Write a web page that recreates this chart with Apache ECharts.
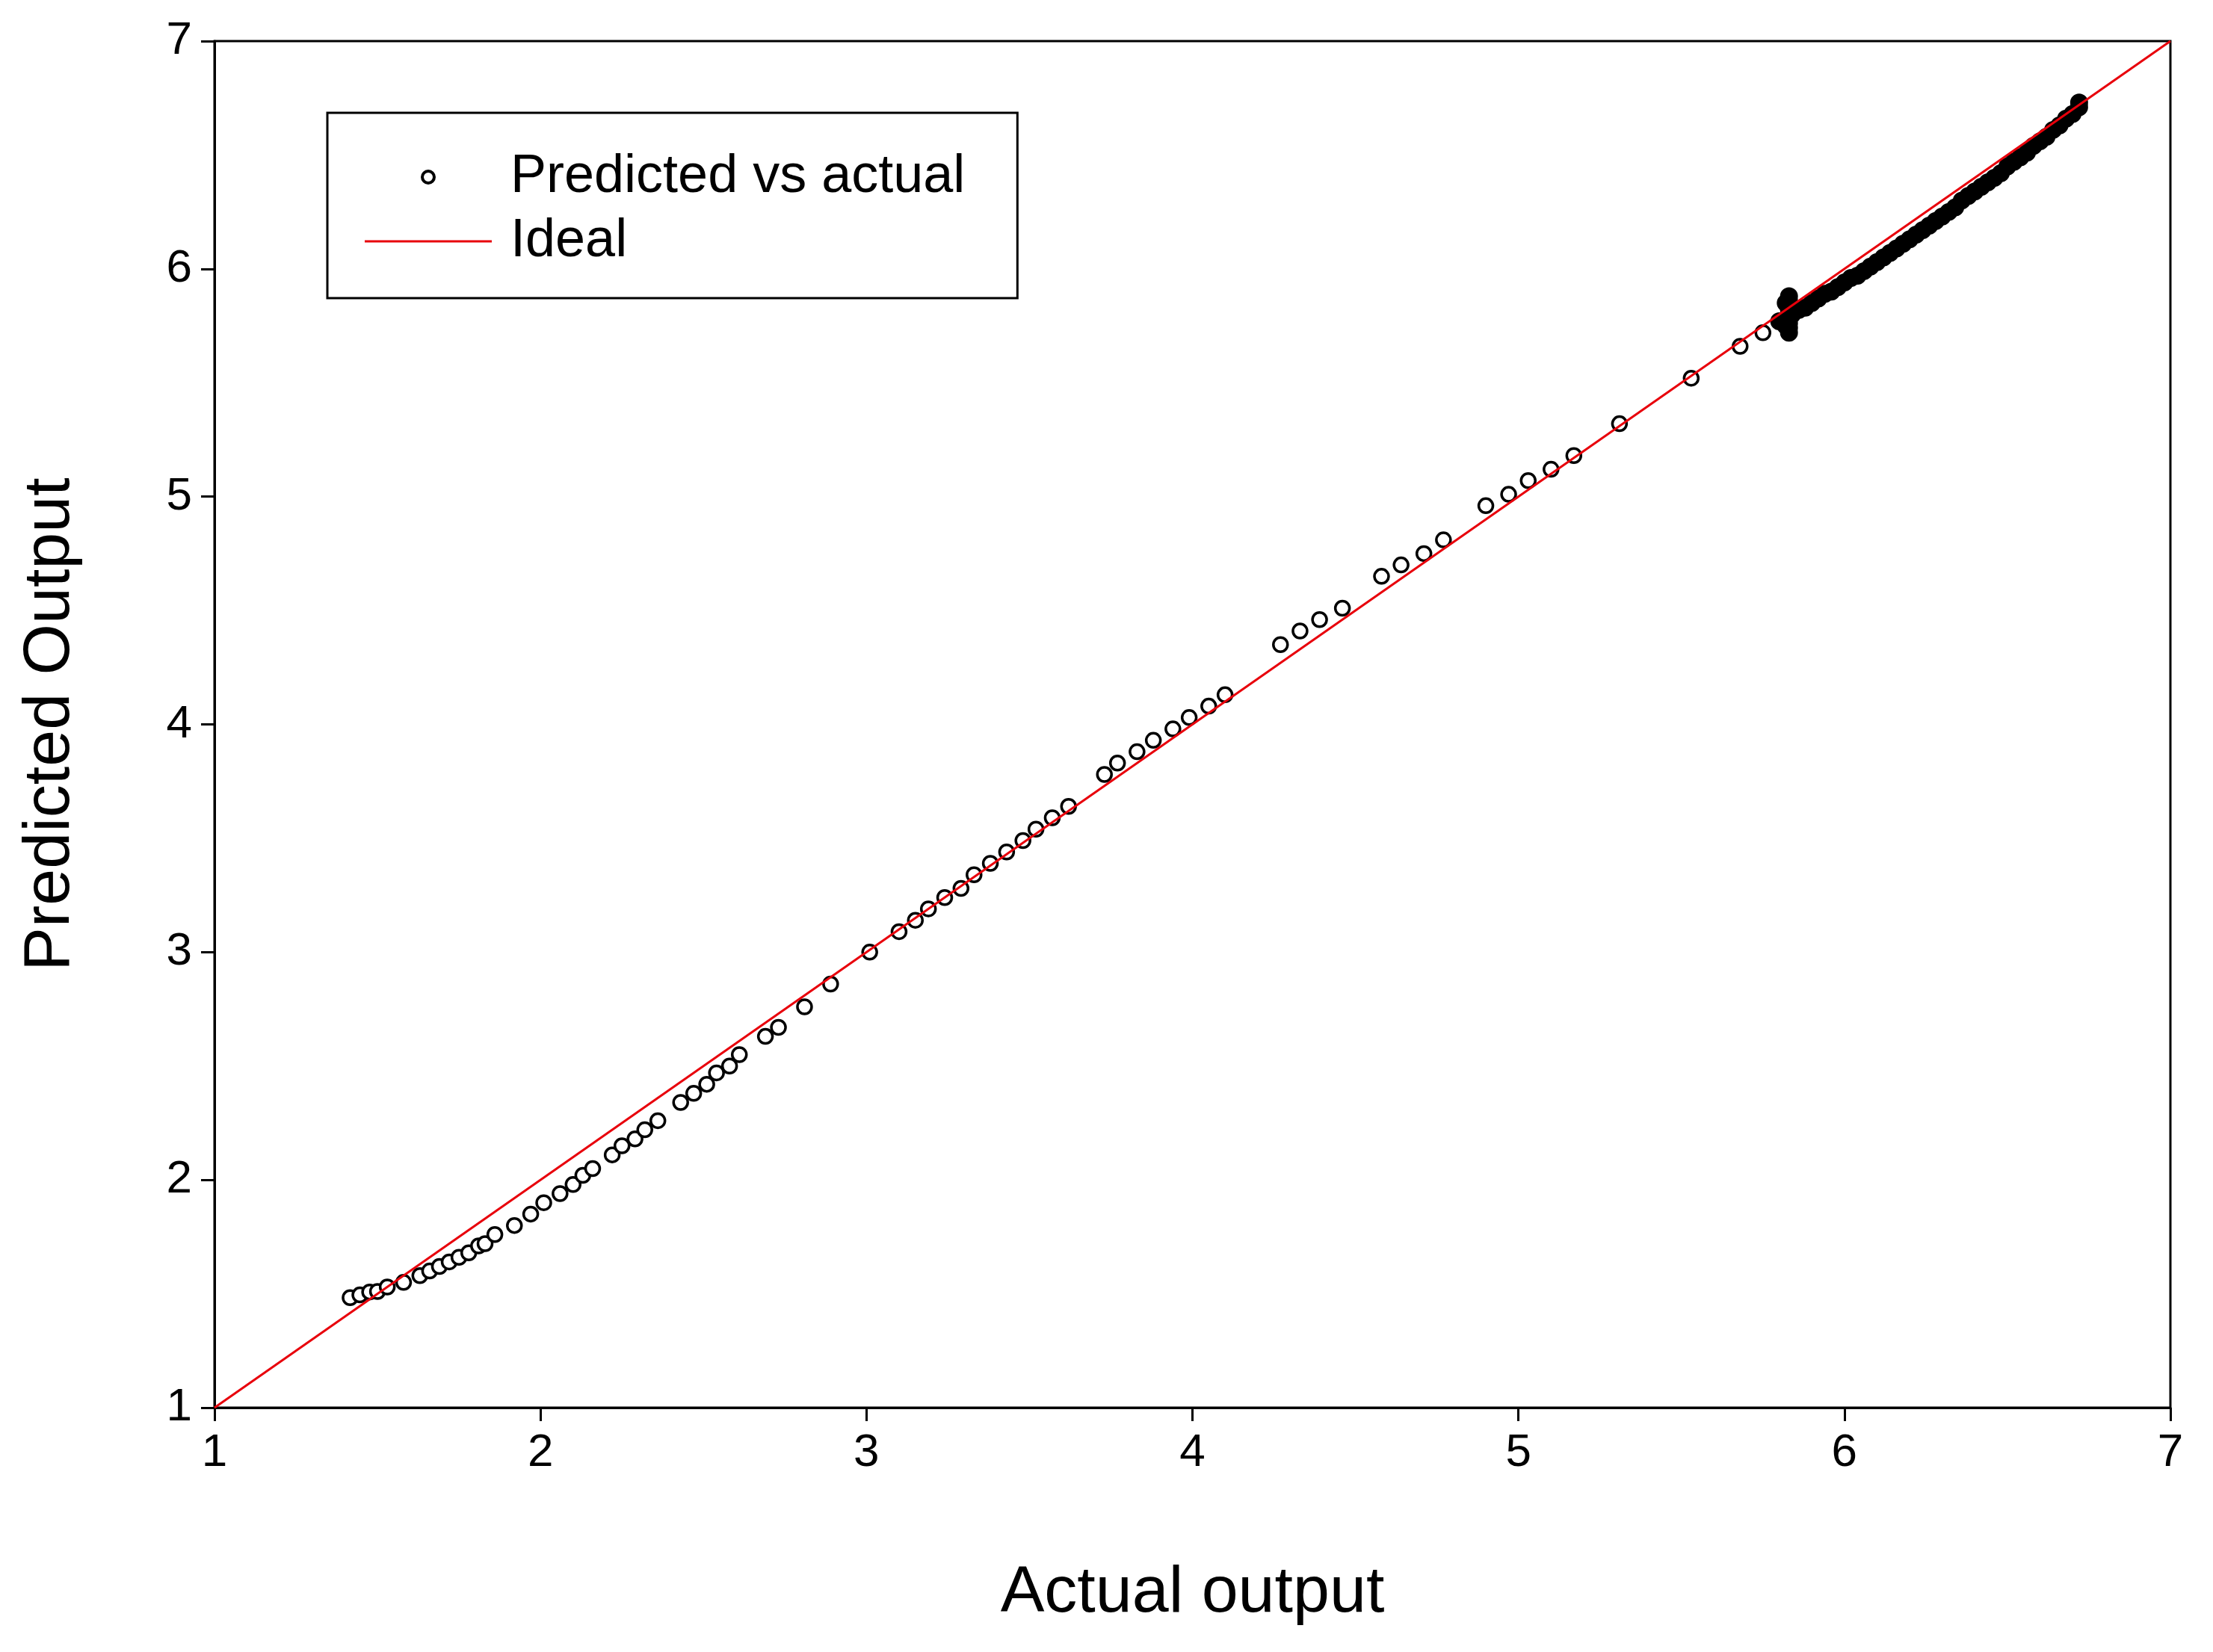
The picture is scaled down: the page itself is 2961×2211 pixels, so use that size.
<!DOCTYPE html>
<html><head><meta charset="utf-8">
<script src="https://cdn.jsdelivr.net/npm/echarts@6/dist/echarts.min.js"></script>
<style>html,body{margin:0;padding:0;background:#fff}#c{width:2961px;height:2211px}</style>
</head><body><div id="c"></div>
<script>
const xTicks = [1,2,3,4,5,6,7];
const sparsePoints = [
[1.416,1.483],[1.446,1.495],[1.476,1.508],[1.50,1.51],[1.53,1.53],[1.58,1.55],[1.63,1.58],[1.66,1.60],[1.69,1.62],[1.72,1.64],[1.75,1.66],[1.78,1.68],[1.81,1.71],[1.83,1.72],[1.86,1.76],[1.92,1.80],[1.97,1.85],[2.01,1.90],[2.06,1.94],[2.10,1.98],[2.13,2.02],[2.16,2.05],[2.22,2.11],[2.25,2.15],[2.29,2.18],[2.32,2.22],[2.36,2.26],[2.43,2.34],[2.47,2.38],[2.51,2.42],[2.54,2.47],[2.58,2.50],[2.61,2.55],[2.69,2.63],[2.73,2.67],[2.81,2.76],[2.89,2.86],[3.01,3.00],[3.10,3.09],[3.15,3.14],[3.19,3.19],[3.24,3.24],[3.29,3.28],[3.33,3.34],[3.38,3.39],[3.43,3.44],[3.48,3.49],[3.52,3.54],[3.57,3.59],[3.62,3.64],[3.73,3.78],[3.77,3.83],[3.83,3.88],[3.88,3.93],[3.94,3.98],[3.99,4.03],[4.05,4.08],[4.10,4.13],[4.27,4.35],[4.33,4.41],[4.39,4.46],[4.46,4.51],[4.58,4.65],[4.64,4.70],[4.71,4.75],[4.77,4.81],[4.90,4.96],[4.97,5.01],[5.03,5.07],[5.10,5.12],[5.17,5.18],[5.31,5.32],[5.53,5.52],[5.68,5.66],[5.75,5.72]];
const densePoints = [
[5.80,5.77],[5.82,5.78],[5.84,5.80],[5.86,5.82],[5.88,5.83],[5.90,5.85],[5.92,5.87],[5.94,5.89],[5.96,5.90],[5.98,5.92],[6.00,5.94],[6.02,5.96],[6.04,5.97],[6.06,5.99],[6.08,6.01],[6.10,6.03],[6.12,6.05],[6.14,6.07],[6.16,6.09],[6.18,6.11],[6.20,6.13],[6.22,6.15],[6.24,6.17],[6.26,6.19],[6.28,6.21],[6.30,6.23],[6.32,6.25],[6.34,6.27],[6.36,6.30],[6.38,6.32],[6.40,6.34],[6.42,6.36],[6.44,6.38],[6.46,6.40],[6.48,6.42],[6.50,6.45],[6.52,6.47],[6.54,6.49],[6.56,6.51],[6.58,6.54],[6.60,6.56],[6.62,6.58],[6.64,6.61],[6.66,6.63],[6.68,6.66],[6.70,6.68],[6.72,6.71],[6.72,6.73],
[5.83,5.72],[5.83,5.74],[5.83,5.76],[5.83,5.78],[5.83,5.80],[5.83,5.82],[5.83,5.84],[5.83,5.86],[5.83,5.88],[5.82,5.75],[5.82,5.85]];
const idealLine = [[1,1],[7,7]];

const chart = echarts.init(document.getElementById('c'));
const font = 'Liberation Sans, Arial, sans-serif';
const axisCommon = {
  type:'value', min:1, max:7, interval:1,
  axisLine:{show:true,onZero:false,lineStyle:{color:'#000',width:3}},
  axisTick:{show:true,inside:false,length:18,lineStyle:{color:'#000',width:3}},
  axisLabel:{color:'#000',fontFamily:font,fontSize:62,margin:30},
  splitLine:{show:false},
  nameTextStyle:{color:'#000',fontFamily:font,fontSize:88}
};
const ring = 'path://M0,10 A10,10 0 1,1 20,10 A10,10 0 1,1 0,10 Z M4,10 A6,6 0 1,0 16,10 A6,6 0 1,0 4,10 Z';
chart.setOption({
  animation:false,
  backgroundColor:'#fff',
  grid:{left:287,right:57,top:55,bottom:327,show:true,borderColor:'#000',borderWidth:3,backgroundColor:'transparent'},
  legend:{
    orient:'vertical', left:438, top:151,
    padding:[50,70,40,50], itemGap:14, itemWidth:170, itemHeight:20,
    borderColor:'#000', borderWidth:3,
    textStyle:{color:'#000',fontFamily:font,fontSize:72,padding:[0,0,0,20]},
    data:[{name:'Predicted vs actual',icon:ring,itemStyle:{color:'#000',borderWidth:0}},
          {name:'Ideal',icon:'path://M0,0 L170,0 L170,3 L0,3 Z',itemStyle:{color:'#e8000b',borderWidth:0}}]
  },
  xAxis:Object.assign({},axisCommon,{name:'Actual output',nameLocation:'middle',nameGap:205}),
  yAxis:Object.assign({},axisCommon,{name:'Predicted Output',nameLocation:'middle',nameGap:175}),
  series:[
    {name:'Predicted vs actual',type:'scatter',data:sparsePoints,symbol:'circle',symbolSize:19,
     itemStyle:{color:'#fff',borderColor:'#000',borderWidth:3.5,opacity:1},z:2},
    {name:'Predicted vs actual',type:'scatter',data:densePoints,symbol:'circle',symbolSize:22,
     itemStyle:{color:'#000',borderColor:'#000',borderWidth:2,opacity:1},z:2},
    {name:'Ideal',type:'line',data:idealLine,symbol:'none',lineStyle:{color:'#e8000b',width:3},
     itemStyle:{color:'#e8000b'},z:3}
  ]
});
</script></body></html>
